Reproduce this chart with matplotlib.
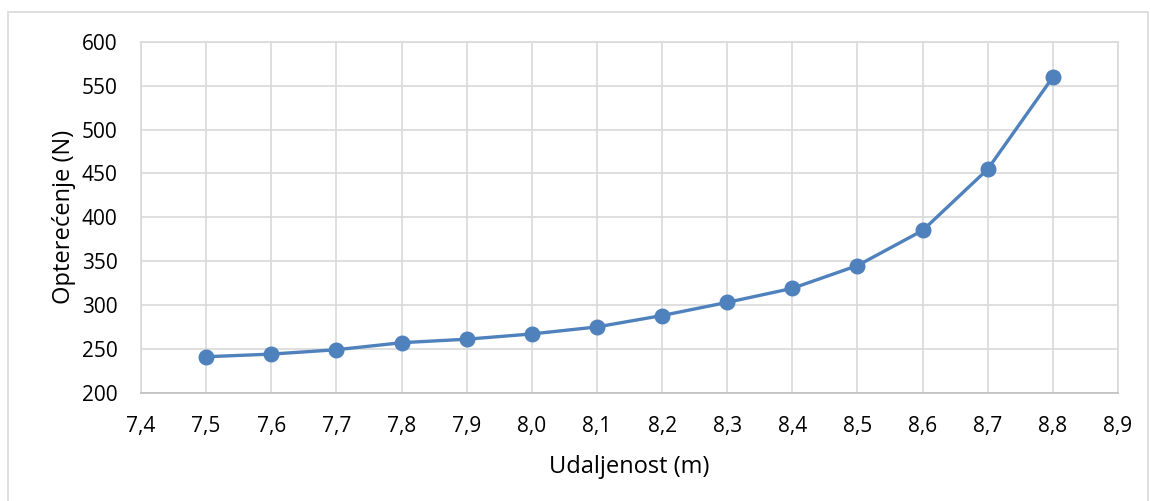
import matplotlib.pyplot as plt
from matplotlib.ticker import FuncFormatter, MultipleLocator
from matplotlib.patches import Rectangle

# Podaci
udaljenost = [7.5, 7.6, 7.7, 7.8, 7.9, 8.0, 8.1, 8.2, 8.3, 8.4, 8.5, 8.6, 8.7, 8.8]
opterecenje = [241, 244, 249, 257, 261, 267, 275, 288, 303, 319, 345, 385, 455, 560]

plt.rcParams['font.family'] = ['Open Sans', 'DejaVu Sans']

fig = plt.figure(figsize=(11.5, 5.01), dpi=100)
ax = fig.add_axes([0.1226, 0.2162, 0.8496, 0.7000])

ax.plot(udaljenost, opterecenje, color='#4F81BD', linewidth=2.4,
        marker='o', markersize=10.5, zorder=3)

ax.set_xlim(7.4, 8.9)
ax.set_ylim(200, 600)
ax.xaxis.set_major_locator(MultipleLocator(0.1))
ax.yaxis.set_major_locator(MultipleLocator(50))
ax.xaxis.set_major_formatter(FuncFormatter(lambda v, p: f"{v:.1f}".replace('.', ',')))

ax.grid(True, color='#D9D9D9', linewidth=1.2)
ax.set_axisbelow(True)
for s in ['top', 'right', 'left']:
    ax.spines[s].set_color('#D9D9D9')
    ax.spines[s].set_linewidth(1.2)
ax.spines['bottom'].set_color('#BFBFBF')
ax.spines['bottom'].set_linewidth(1.2)
ax.tick_params(length=0, labelsize=15, pad=17)
ax.tick_params(axis='x', pad=17)

ax.set_xlabel('Udaljenost (m)', fontsize=17, labelpad=13)
ax.set_ylabel('Opterećenje (N)', fontsize=17, labelpad=4)

# okvir grafikona
fig.patches.append(Rectangle((8 / 1150, -0.01), 1140 / 1150, 1 - 12 / 501 + 0.01,
                             transform=fig.transFigure, fill=False,
                             edgecolor='#D9D9D9', linewidth=1.2))

fig.savefig('out.png', dpi=100)
